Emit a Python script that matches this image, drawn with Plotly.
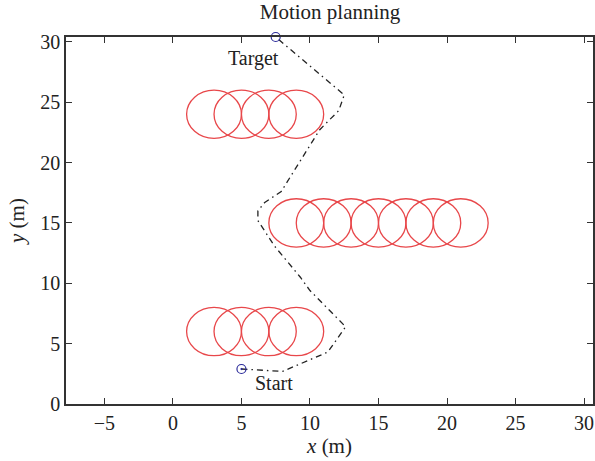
import plotly.graph_objects as go

# Obstacles (circle centres, radius in metres)
obs_x = [3, 5, 7, 9, 9, 11, 13, 15, 17, 19, 21, 3, 5, 7, 9]
obs_y = [24, 24, 24, 24, 15, 15, 15, 15, 15, 15, 15, 6, 6, 6, 6]
obs_r = 2.0

# Planned path
path_x = [5.0, 8.0, 11.3, 12.6, 10.0, 9.3, 7.4, 6.2, 6.2, 6.7, 7.9, 9.5, 10.7, 11.3, 12.1, 12.5, 7.5]
path_y = [2.9, 2.7, 4.3, 6.4, 9.4, 10.5, 13.1, 15.2, 16.0, 16.7, 17.6, 20.5, 22.7, 23.4, 24.3, 25.6, 30.4]

start_pt = (5.0, 2.9)
target_pt = (7.5, 30.4)

x_ticks = [-5, 0, 5, 10, 15, 20, 25, 30]
y_ticks = [0, 5, 10, 15, 20, 25, 30]

FONT = "Liberation Serif"
AX = "#333333"
TXT = "#222222"

fig = go.Figure()

fig.add_trace(go.Scatter(
    x=path_x, y=path_y, mode="lines",
    line=dict(color="#222222", width=1.3, dash="6px,4px,1.5px,4px"),
    showlegend=False, hoverinfo="skip"))

fig.add_trace(go.Scatter(
    x=[start_pt[0]], y=[start_pt[1]], mode="markers",
    marker=dict(symbol="circle-open-dot", size=9, color="#2b2b9a", line=dict(width=1.2)),
    showlegend=False, cliponaxis=False))
fig.add_trace(go.Scatter(
    x=[target_pt[0]], y=[target_pt[1]], mode="markers",
    marker=dict(symbol="circle-open", size=9, color="#2b2b9a", line=dict(width=1.2)),
    showlegend=False, cliponaxis=False))

for cx, cy in zip(obs_x, obs_y):
    fig.add_shape(type="circle", xref="x", yref="y",
                  x0=cx - obs_r, x1=cx + obs_r, y0=cy - obs_r, y1=cy + obs_r,
                  line=dict(color="#e8474a", width=1.3), layer="above")

fig.add_annotation(x=target_pt[0], y=target_pt[1], text="Target", showarrow=False,
                   xanchor="right", yanchor="top", xshift=5, yshift=-8,
                   font=dict(family=FONT, size=20, color=TXT))
fig.add_annotation(x=start_pt[0], y=start_pt[1], text="Start", showarrow=False,
                   xanchor="left", yanchor="top", xshift=12, yshift=-1,
                   font=dict(family=FONT, size=20, color=TXT))

axis_common = dict(
    showgrid=False, zeroline=False, showline=True, linecolor=AX, linewidth=1.5,
    mirror="ticks", ticks="inside", ticklen=6, tickcolor=AX, tickwidth=1.3,
    tickfont=dict(family=FONT, size=20, color=TXT), automargin=False,
)

fig.update_layout(
    width=595, height=461, autosize=False,
    margin=dict(l=66, r=2, t=37, b=57),
    paper_bgcolor="white", plot_bgcolor="white",
    title=dict(text="Motion planning", x=330 / 595, xanchor="center", y=1 - 4 / 461, yanchor="top",
               font=dict(family=FONT, size=21, color=TXT)),
    xaxis=dict(range=[-7.8, 30.65], tickvals=x_ticks,
               title=dict(text="<i>x</i> (m)", standoff=2,
                          font=dict(family=FONT, size=21, color=TXT)),
               **axis_common),
    yaxis=dict(range=[0, 30.4], tickvals=y_ticks,
               title=dict(text="<i>y</i> (m)", standoff=10,
                          font=dict(family=FONT, size=21, color=TXT)),
               **axis_common),
)

fig.write_html(
    "out.html",
    config={"responsive": False, "displayModeBar": False},
    post_script="document.body.style.margin='0';document.body.style.overflow='hidden';",
)
